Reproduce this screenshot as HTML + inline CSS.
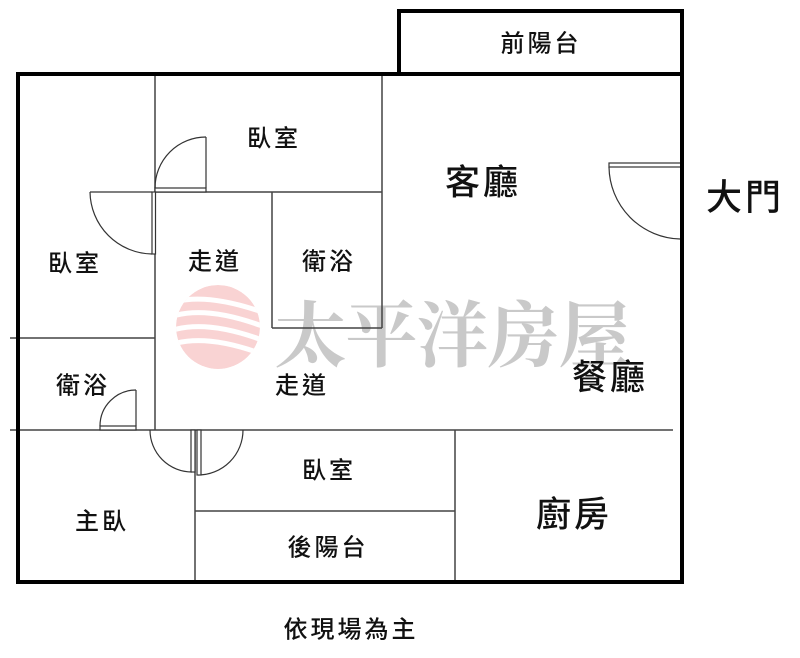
<!DOCTYPE html>
<html><head><meta charset="utf-8"><style>
html,body{margin:0;padding:0;background:#fff;width:800px;height:658px;overflow:hidden}
svg{display:block}
text{font-family:"Liberation Sans","Noto Sans CJK TC",sans-serif;fill:#111;text-anchor:middle;dominant-baseline:central;font-weight:500}
.s{font-size:24px;letter-spacing:3px}
.b{font-size:35px;letter-spacing:3px}
</style></head><body>
<svg width="800" height="658" viewBox="0 0 800 658" xmlns="http://www.w3.org/2000/svg">
<defs>
<clipPath id="lc"><circle cx="218" cy="327" r="42"/></clipPath>
</defs>
<!-- watermark -->
<g clip-path="url(#lc)" fill="none" stroke="#fff" stroke-width="5">
<circle cx="218" cy="327" r="42" fill="#f9d3d3" stroke="none"/>
<path d="M170 303 Q205 292 262 312"/>
<path d="M170 317 Q205 305 262 326"/>
<path d="M170 331 Q205 319 262 340"/>
<path d="M170 345 Q205 333 262 354"/>
</g>
<text x="452" y="330" style="font-family:'Noto Serif CJK SC','Liberation Serif',serif;font-weight:bold;font-size:72px;fill:#c9c9c9;letter-spacing:-1px">太平洋房屋</text>

<g stroke="#444" stroke-width="1.5" fill="none">
<line x1="155" y1="74" x2="155" y2="430"/>
<line x1="155" y1="192" x2="382" y2="192"/>
<line x1="382" y1="74" x2="382" y2="328"/>
<line x1="272" y1="192" x2="272" y2="328"/>
<line x1="272" y1="328" x2="382" y2="328"/>
<line x1="10" y1="338" x2="155" y2="338"/>
<line x1="10" y1="430" x2="673" y2="430"/>
<line x1="195" y1="430" x2="195" y2="582"/>
<line x1="195" y1="511" x2="455" y2="511"/>
<line x1="455" y1="430" x2="455" y2="582"/>
</g>
<g stroke="#333" stroke-width="1.2" fill="#fff">
<path d="M206 137 A51 51 0 0 0 155 188" fill="none"/>
<rect x="155" y="188" width="51" height="4"/>
<line x1="206" y1="137" x2="206" y2="188"/>
<path d="M90 192 A63 63 0 0 0 152 254" fill="none"/>
<rect x="152" y="192" width="3.5" height="62"/>
<line x1="90" y1="192" x2="152" y2="192"/>
<path d="M100 426 A36 36 0 0 1 136 390" fill="none"/>
<rect x="100" y="426" width="36" height="4"/>
<line x1="136" y1="390" x2="136" y2="426"/>
<path d="M150 430 A42 42 0 0 0 192 472" fill="none"/>
<rect x="191" y="430" width="4" height="42"/>
<path d="M243 430 A45 45 0 0 1 198 475" fill="none"/>
<rect x="197" y="430" width="4" height="45"/>
<path d="M609 167 A73 73 0 0 0 680 239" fill="none"/>
<rect x="609" y="163" width="73" height="4"/>
</g>
<g stroke="#000" stroke-width="4" fill="none">
<rect x="18" y="74" width="664" height="508"/>
<rect x="399" y="11" width="283" height="63"/>
</g>

<text class="s" x="541" y="44">前陽台</text>
<text class="s" x="274" y="139">臥室</text>
<text class="b" x="483" y="183">客廳</text>
<text class="b" x="745" y="197" style="font-size:36px">大門</text>
<text class="s" x="75" y="264">臥室</text>
<text class="s" x="215" y="262">走道</text>
<text class="s" x="329" y="262">衛浴</text>
<text class="s" x="83" y="386">衛浴</text>
<text class="s" x="302" y="386">走道</text>
<text class="b" x="610" y="378">餐廳</text>
<text class="s" x="329" y="471">臥室</text>
<text class="s" x="102" y="522">主臥</text>
<text class="s" x="328" y="548">後陽台</text>
<text class="b" x="574" y="515">廚房</text>
<text class="s" x="351" y="630">依現場為主</text>
</svg>
</body></html>
